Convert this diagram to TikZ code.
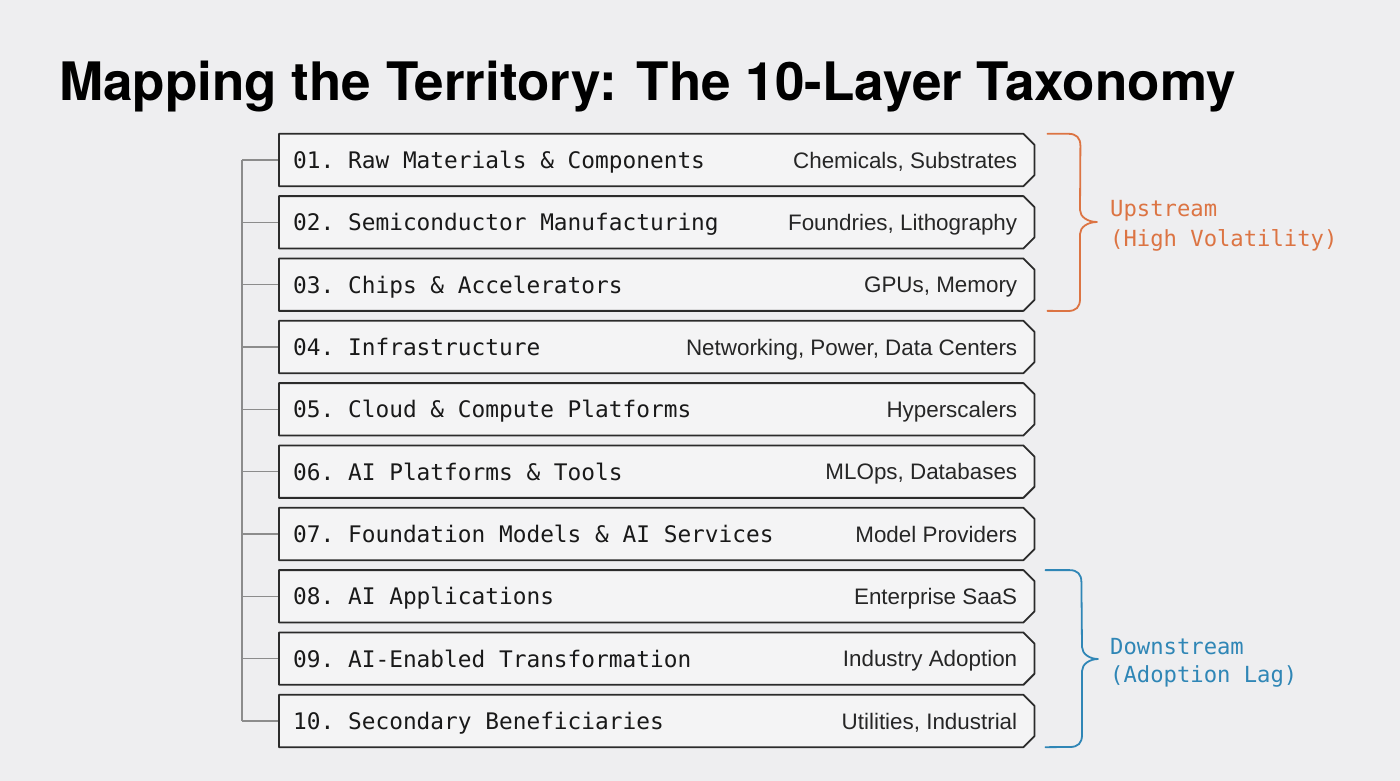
\documentclass[tikz,border=0pt]{standalone}
\usepackage{fontspec}
\setmainfont{TeX Gyre Heros}
\setsansfont{Liberation Sans}
\setmonofont{DejaVu Sans Mono}
\usetikzlibrary{calc}
\definecolor{bg}{HTML}{EEEEF0}
\definecolor{boxfill}{HTML}{F4F4F5}
\definecolor{boxline}{HTML}{2B2B2B}
\definecolor{treeline}{HTML}{8C8C8C}
\definecolor{upc}{HTML}{DC7443}
\definecolor{downc}{HTML}{2F86B6}
\begin{document}
\begin{tikzpicture}[x=1pt,y=-1pt,
  layer/.style={minimum width=755pt, minimum height=52pt, inner sep=0pt, anchor=west},
  layerpath/.style={draw=boxline, fill=boxfill, line width=1.8pt, line join=round},
  tree/.style={draw=treeline, line width=1.4pt},
  mono/.style={font=\fontsize{22.8}{26}\selectfont\ttfamily, text=black!90, anchor=base west, inner sep=0pt},
  desc/.style={font=\fontsize{22.4}{26}\selectfont\sffamily, text=black!85, anchor=base east, inner sep=0pt},
  brace/.style={line width=1.8pt, line cap=round, line join=round},
  grouplbl/.style={font=\fontsize{22.2}{29}\selectfont\ttfamily, anchor=base west, inner sep=0pt}]
\fill[bg] (0,0) rectangle (1400,781);
\node[anchor=base west, inner sep=0pt, font=\fontsize{53}{60}\selectfont\bfseries] (title) at (59,101) {Mapping the Territory: The 10-Layer Taxonomy};
\foreach \i/\name/\d in {
  1/{01. Raw Materials \& Components}/{Chemicals, Substrates},
  2/{02. Semiconductor Manufacturing}/{Foundries, Lithography},
  3/{03. Chips \& Accelerators}/{GPUs, Memory},
  4/{04. Infrastructure}/{Networking, Power, Data Centers},
  5/{05. Cloud \& Compute Platforms}/{Hyperscalers},
  6/{06. AI Platforms \& Tools}/{MLOps, Databases},
  7/{07. Foundation Models \& AI Services}/{Model Providers},
  8/{08. AI Applications}/{Enterprise SaaS},
  9/{09. AI-Enabled Transformation}/{Industry Adoption},
  10/{10. Secondary Beneficiaries}/{Utilities, Industrial}}{
  \pgfmathsetmacro\yc{160+62.33*(\i-1)}
  \node[layer] (b\i) at (279,\yc) {};
  \coordinate (s\i) at (242,\yc);
  \draw[tree] (s\i) -- (b\i.west);
  \path[layerpath] (b\i.north west) -- ($(b\i.north east)+(-11,0)$) -- ($(b\i.north east)+(0,11)$)
     -- ($(b\i.south east)+(0,-11)$) -- ($(b\i.south east)+(-11,0)$) -- (b\i.south west) -- cycle;
  \node[mono] (t\i) at ($(b\i.west)+(14,8.5)$) {\name};
  \node[desc] (d\i) at ($(b\i.east)+(-17,8.3)$) {\d};
}
\draw[tree] (s1) -- (s10);
% upstream brace
\coordinate (ua) at ($(b1.north east)+(13,0)$);
\coordinate (ub) at ($(b3.south east)+(13,0)$);
\draw[brace, upc] (ua) -- ++(21,0) .. controls +(8,0) and +(0,-8) .. ++(12,12) -- (1080,210)
  .. controls (1080,217) and (1088,222) .. (1097,222)
  .. controls (1088,222) and (1080,227) .. (1080,234) -- (1080,299)
  .. controls (1080,307) and (1076,311) .. (1068,311) -- (ub);
\node[grouplbl, text=upc] (up1) at (1110,216) {Upstream};
\node[grouplbl, text=upc] (up2) at (1110,246) {(High Volatility)};
% downstream brace
\coordinate (da) at ($(b8.north east)+(11,0)$);
\coordinate (db) at ($(b10.south east)+(11,0)$);
\draw[brace, downc] (da) -- ++(24,0) .. controls +(8,0) and +(0,-8) .. ++(12,12) -- (1082,647)
  .. controls (1082,654) and (1090,659) .. (1098,659)
  .. controls (1090,659) and (1082,664) .. (1082,671) -- (1082,735)
  .. controls (1082,743) and (1078,747) .. (1070,747) -- (db);
\node[grouplbl, text=downc] (dn1) at (1110,654) {Downstream};
\node[grouplbl, text=downc] (dn2) at (1110,682) {(Adoption Lag)};
\end{tikzpicture}
\end{document}
